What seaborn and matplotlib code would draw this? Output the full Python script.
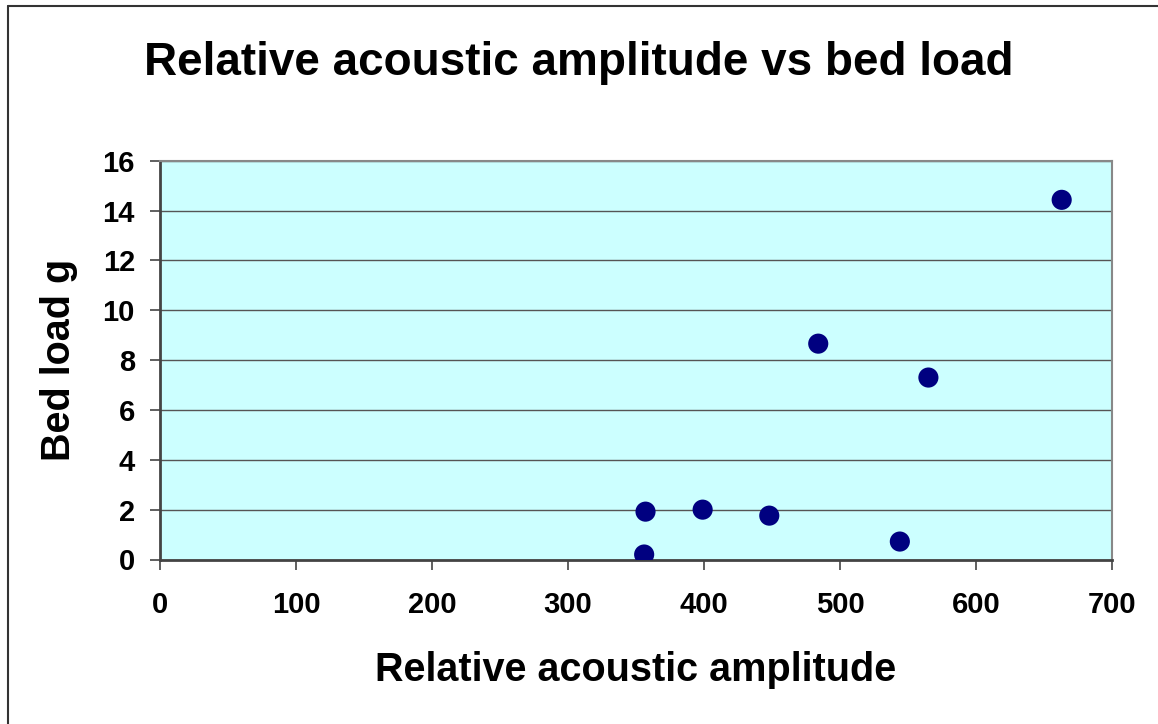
import matplotlib
matplotlib.use("Agg")
import matplotlib.pyplot as plt
import seaborn as sns
import pandas as pd
from matplotlib.lines import Line2D

amplitude = [356, 357, 399, 448, 484, 565, 663, 544]
bed_load = [0.2, 1.92, 2.0, 1.76, 8.66, 7.3, 14.43, 0.72]

x_ticks = [0, 100, 200, 300, 400, 500, 600, 700]
y_ticks = [0, 2, 4, 6, 8, 10, 12, 14, 16]

title = "Relative acoustic amplitude vs bed load"
xlabel = "Relative acoustic amplitude"
ylabel = "Bed load g"

df = pd.DataFrame({"amp": amplitude, "load": bed_load})

sns.set_style("white")
plt.rcParams["font.family"] = ["Liberation Sans", "DejaVu Sans"]
plt.rcParams["font.weight"] = "bold"
plt.rcParams["text.color"] = "black"
plt.rcParams["axes.labelcolor"] = "black"
plt.rcParams["xtick.color"] = "black"
plt.rcParams["ytick.color"] = "black"

W, H = 1158, 724
fig = plt.figure(figsize=(W / 100, H / 100), dpi=100)
ax = fig.add_axes([160 / W, 1 - 559.5 / H, (1112 - 160) / W, (559.5 - 160.7) / H])
ax.set_facecolor("#CCFFFF")

sns.scatterplot(data=df, x="amp", y="load", ax=ax, color="#000080",
                s=210, edgecolor="none", zorder=3, legend=False)

ax.set_xlim(0, 700)
ax.set_ylim(0, 16)
ax.set_xticks(x_ticks)
ax.set_yticks(y_ticks)
ax.set_xticklabels([str(t) for t in x_ticks], fontsize=21, fontweight="bold", color="black")
ax.set_yticklabels([str(t) for t in y_ticks], fontsize=21, fontweight="bold", color="black")
ax.yaxis.grid(True, color="#555555", linewidth=1.0, zorder=0)
ax.xaxis.grid(False)
ax.set_axisbelow(True)

ax.tick_params(axis="both", direction="out", length=7, width=1.2, color="#444444",
               bottom=True, left=True)
ax.tick_params(axis="x", pad=16)
ax.tick_params(axis="y", pad=11)

for s in ["left", "bottom"]:
    ax.spines[s].set_color("#444444")
    ax.spines[s].set_linewidth(2.0)
for s in ["top", "right"]:
    ax.spines[s].set_color("#888888")
    ax.spines[s].set_linewidth(1.5)

ax.set_xlabel(xlabel, fontsize=28.5, fontweight="bold", color="black", va="center")
ax.set_ylabel(ylabel, fontsize=28.5, fontweight="bold", color="black", va="center")
ax.xaxis.set_label_coords(0.5, (559.5 - 670) / (559.5 - 160.7))
ax.yaxis.set_label_coords((59 - 160) / (1112 - 160), 0.5)
fig.text(0.5, 1 - 63 / H, title, ha="center", va="center", fontsize=33,
         fontweight="bold", color="black")

fig.add_artist(Line2D([8 / W, 8 / W], [0, 1 - 6 / H], color="#333333", linewidth=1.5))
fig.add_artist(Line2D([8 / W, 1], [1 - 6 / H, 1 - 6 / H], color="#333333", linewidth=1.5))

fig.savefig("out.png", dpi=100)
